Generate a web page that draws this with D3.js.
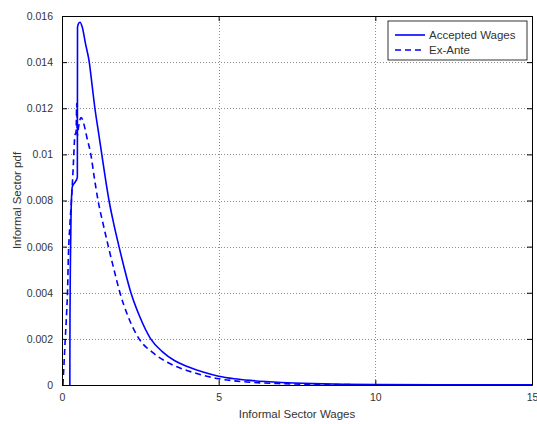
<!DOCTYPE html>
<html>
<head>
<meta charset="utf-8">
<script src="https://cdn.jsdelivr.net/npm/d3@7"></script>
<style>
  body { margin: 0; background: #fff; }
  svg { display: block; font-family: "Liberation Sans", Arial, sans-serif; }
</style>
</head>
<body>
<svg id="chart" width="537" height="424"></svg>
<script>
// accepted wage density (solid)
var acceptedWage = [0.25, 0.255, 0.27, 0.29, 0.33, 0.42, 0.49, 0.495, 0.52, 0.575, 0.65, 0.75, 0.87, 0.96,
    1.05, 1.16, 1.27, 1.38, 1.50, 1.65, 1.82, 2.00, 2.20, 2.47, 2.83, 3.2, 3.6, 4.0, 4.5, 5.0, 5.5, 6.0,
    6.5, 7.0, 8.0, 9.0, 10, 12, 15];
var acceptedPdf = [0, 0.0030, 0.0055, 0.0075, 0.0086, 0.0088, 0.0090, 0.0155, 0.01565, 0.01573, 0.0155,
    0.0148, 0.0140, 0.0130, 0.0120, 0.0110, 0.0100, 0.0090, 0.0080, 0.0070, 0.0060, 0.0050, 0.0040,
    0.0030, 0.0020, 0.00145, 0.00105, 0.00080, 0.00056, 0.00038, 0.00027, 0.00020, 0.00015, 0.00011,
    0.00006, 0.00003, 0.00002, 0.00001, 0.000005];

// ex-ante wage density (dashed)
var exAnteWage = [0.03, 0.06, 0.10, 0.15, 0.18, 0.20, 0.25, 0.31, 0.36, 0.41, 0.45, 0.47, 0.49, 0.53, 0.61,
    0.70, 0.80, 0.92, 1.03, 1.15, 1.31, 1.48, 1.66, 1.85, 2.1, 2.46, 2.9, 3.34, 3.8, 4.3, 5.0, 5.5,
    6.0, 7.0, 8.0, 10, 15];
var exAntePdf = [0, 0.0008, 0.0019, 0.0032, 0.0042, 0.0054, 0.0069, 0.0082, 0.0095, 0.0108, 0.0110,
    0.0122, 0.0108, 0.0112, 0.0116, 0.0113, 0.0107, 0.0100, 0.0090, 0.0080, 0.0070, 0.0060, 0.0050,
    0.0040, 0.0030, 0.0020, 0.0014, 0.00100, 0.00072, 0.00050, 0.00027, 0.00018, 0.00012, 0.00006,
    0.00003, 0.00001, 0];

var xTicks = [0, 5, 10, 15];
var yTicks = [0, 0.002, 0.004, 0.006, 0.008, 0.01, 0.012, 0.014, 0.016];

var seriesNames = ["Accepted Wages", "Ex-Ante"];

var plotLeft = 62, plotTop = 16, plotRight = 532, plotBottom = 385;
var svg = d3.select("#chart");

var x = d3.scaleLinear().domain([0, 15]).range([plotLeft, plotRight]);
var y = d3.scaleLinear().domain([0, 0.016]).range([plotBottom, plotTop]);

// dotted grid
var grid = svg.append("g").attr("stroke", "#8c8c8c").attr("stroke-width", 1)
    .attr("stroke-dasharray", "1,2").attr("shape-rendering", "crispEdges");
grid.selectAll(".gx").data(xTicks.slice(1, -1)).enter().append("line")
    .attr("x1", function (d) { return Math.round(x(d)) + 0.5; })
    .attr("x2", function (d) { return Math.round(x(d)) + 0.5; })
    .attr("y1", plotTop).attr("y2", plotBottom);
grid.selectAll(".gy").data(yTicks.slice(1, -1)).enter().append("line")
    .attr("y1", function (d) { return Math.round(y(d)) + 0.5; })
    .attr("y2", function (d) { return Math.round(y(d)) + 0.5; })
    .attr("x1", plotLeft).attr("x2", plotRight);

// curves, smoothed without overshoot
var line = d3.line()
    .curve(d3.curveMonotoneX)
    .x(function (d) { return x(d[0]); })
    .y(function (d) { return y(d[1]); });

svg.append("path")
    .datum(d3.zip(acceptedWage, acceptedPdf))
    .attr("d", line)
    .attr("fill", "none")
    .attr("stroke", "#0000ff")
    .attr("stroke-width", 1.6);

svg.append("path")
    .datum(d3.zip(exAnteWage, exAntePdf))
    .attr("d", line)
    .attr("fill", "none")
    .attr("stroke", "#0000ff")
    .attr("stroke-width", 1.6)
    .attr("stroke-dasharray", "6,4");

// axes with inward ticks on all four sides
var tickLen = 5;
var xBottom = d3.axisBottom(x).tickValues(xTicks).tickSizeInner(-tickLen).tickSizeOuter(0).tickPadding(9);
var xTop = d3.axisTop(x).tickValues(xTicks).tickSizeInner(-tickLen).tickSizeOuter(0).tickFormat("");
var yLeft = d3.axisLeft(y).tickValues(yTicks).tickSizeInner(-tickLen).tickSizeOuter(0).tickPadding(9)
    .tickFormat(function (d) { return d === 0 ? "0" : String(+d.toFixed(3)); });
var yRight = d3.axisRight(y).tickValues(yTicks).tickSizeInner(-tickLen).tickSizeOuter(0).tickFormat("");

function styleAxis(g) {
    g.select(".domain").attr("stroke", "#000");
    g.selectAll(".tick line").attr("stroke", "#000");
    g.selectAll("text").attr("fill", "#333").attr("font-size", 10.5)
        .attr("font-family", "'Liberation Sans', Arial, sans-serif");
}

svg.append("g").attr("transform", "translate(0," + plotBottom + ")").call(xBottom).call(styleAxis);
svg.append("g").attr("transform", "translate(0," + plotTop + ")").call(xTop).call(styleAxis);
svg.append("g").attr("transform", "translate(" + plotLeft + ",0)").call(yLeft).call(styleAxis);
svg.append("g").attr("transform", "translate(" + plotRight + ",0)").call(yRight).call(styleAxis);

// axis labels
svg.append("text")
    .attr("x", (plotLeft + plotRight) / 2).attr("y", 418)
    .attr("text-anchor", "middle").attr("font-size", 11.5).attr("fill", "#333")
    .text("Informal Sector Wages");
svg.append("text")
    .attr("transform", "translate(21," + (plotTop + plotBottom) / 2 + ") rotate(-90)")
    .attr("text-anchor", "middle").attr("font-size", 11.5).attr("fill", "#333")
    .text("Informal Sector pdf");

// legend
var legend = svg.append("g").attr("transform", "translate(388,21)");
legend.append("rect").attr("width", 139).attr("height", 39)
    .attr("fill", "#fff").attr("stroke", "#000").attr("stroke-width", 0.8);
var entries = legend.selectAll(".entry").data(seriesNames).enter().append("g")
    .attr("transform", function (d, i) { return "translate(0," + (14 + i * 15) + ")"; });
entries.append("line").attr("x1", 7).attr("x2", 37)
    .attr("stroke", "#0000ff").attr("stroke-width", 1.6)
    .attr("stroke-dasharray", function (d, i) { return i === 1 ? "6,4" : null; });
entries.append("text").attr("x", 41).attr("dy", "0.35em")
    .attr("font-size", 11.5).attr("fill", "#333")
    .text(function (d) { return d; });
</script>
</body>
</html>
